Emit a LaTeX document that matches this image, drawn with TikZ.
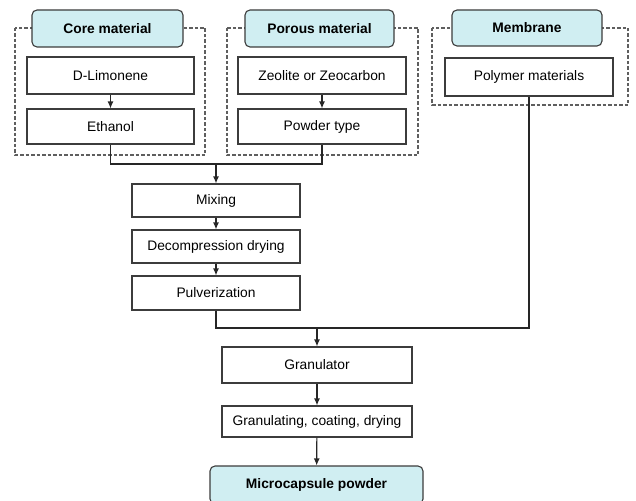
\documentclass[tikz,border=0pt]{standalone}
\usepackage{fontspec}
\setmainfont{Liberation Sans}
\usetikzlibrary{arrows.meta}
\definecolor{hdrfill}{RGB}{208,238,242}
\definecolor{edge}{RGB}{60,60,60}
\definecolor{dashc}{RGB}{95,95,95}
\tikzset{
  box/.style={draw=edge, line width=1.1pt, fill=white, inner sep=0pt, font=\fontsize{13.8}{16}\selectfont},
  hdr/.style={draw=edge, line width=1.1pt, fill=hdrfill, rounded corners=5pt, inner sep=0pt, font=\fontsize{13.8}{16}\selectfont\bfseries},
  grp/.style={draw=dashc, line width=1.1pt, dash pattern=on 3.5pt off 2pt},
  conn/.style={draw=black!85, line width=1.2pt},
  arr/.style={conn, -{Latex[length=7pt,width=6pt]}}
}
\begin{document}
\begin{tikzpicture}[x=1pt,y=-1pt]
\useasboundingbox (0,0) rectangle (636,500);
% dashed groups
\draw[grp] (15,28) rectangle (205,155);
\draw[grp] (227,28) rectangle (418,155);
\draw[grp] (432,28) rectangle (628,105);
% headers
\node[hdr, minimum width=151pt, minimum height=37pt] (hcore) at (107.5,28.5) {Core material};
\node[hdr, minimum width=149pt, minimum height=37pt] (hpor) at (319.5,28.5) {Porous material};
\node[hdr, minimum width=150pt, minimum height=36pt] (hmem) at (527,28) {Membrane};
% group boxes
\node[box, minimum width=167pt, minimum height=37pt] (dlim) at (110.5,75.5) {D-Limonene};
\node[box, minimum width=167pt, minimum height=35pt] (eth) at (110.5,126.5) {Ethanol};
\node[box, minimum width=168pt, minimum height=37pt] (zeo) at (322,75.5) {Zeolite or Zeocarbon};
\node[box, minimum width=168pt, minimum height=35pt] (pow) at (322,126.5) {Powder type};
\node[box, minimum width=168pt, minimum height=38pt] (poly) at (529,77) {Polymer materials};
% process chain
\node[box, minimum width=168pt, minimum height=33pt] (mix) at (216,200.5) {Mixing};
\node[box, minimum width=168pt, minimum height=33pt] (dec) at (216,246.5) {Decompression drying};
\node[box, minimum width=168pt, minimum height=34pt] (pul) at (216,293) {Pulverization};
\node[box, minimum width=190pt, minimum height=36pt] (gran) at (317,365) {Granulator};
\node[box, minimum width=190pt, minimum height=31pt] (gc) at (317,421.5) {Granulating, coating, drying};
\node[hdr, minimum width=213pt, minimum height=38pt] (micro) at (316.5,485) {Microcapsule powder};
% junctions
\coordinate (j1) at (216,164);
\coordinate (j2) at (317,328);
% connectors
\draw[arr] (dlim) -- (eth);
\draw[arr] (zeo) -- (pow);
\draw[conn] (eth.south) |- (j1) -| (pow.south);
\draw[arr] (j1) -- (mix.north);
\draw[arr] (mix) -- (dec);
\draw[arr] (dec) -- (pul);
\draw[conn] (pul.south) |- (j2) -| (poly.south);
\draw[arr] (j2) -- (gran.north);
\draw[arr] (gran) -- (gc);
\draw[arr] (gc) -- (micro);
\end{tikzpicture}
\end{document}
